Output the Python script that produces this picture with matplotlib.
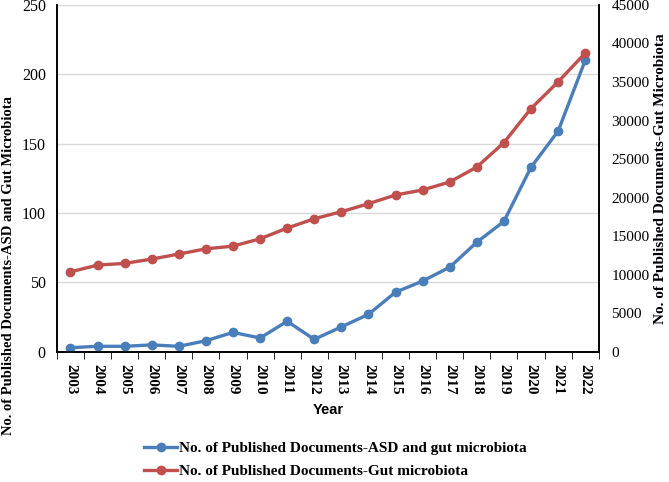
import numpy as np
import matplotlib.pyplot as plt

plt.rcParams['font.family'] = ['Liberation Serif', 'DejaVu Serif']

years = [str(y) for y in range(2003, 2023)]
asd_gut = [3, 4, 4, 5, 4, 8, 14, 10, 22, 9, 18, 27, 43, 51, 61, 79, 94, 133, 159, 210]
gut = [10370, 11250, 11470, 12030, 12680, 13360, 13710, 14660, 16050, 17260,
       18170, 19210, 20340, 20990, 22030, 23970, 27130, 31550, 35010, 38740]

blue = '#4a7ebb'
red = '#c0504d'

fig = plt.figure(figsize=(6.69, 4.82), dpi=100)
ax = fig.add_axes([0.085, 0.27, 0.81, 0.72])
ax2 = ax.twinx()

x = np.arange(len(years))
l1, = ax.plot(x, asd_gut, color=blue, lw=2.4, marker='o', ms=6,
              label='No. of Published Documents-ASD and gut microbiota', zorder=3)
l2, = ax2.plot(x, gut, color=red, lw=2.4, marker='o', ms=6,
               label='No. of Published Documents-Gut microbiota', zorder=3)

ax.set_xlim(-0.5, len(years) - 0.5)
ax.set_ylim(0, 250)
ax2.set_ylim(0, 45000)
ax.set_yticks(np.arange(0, 251, 50))
ax2.set_yticks(np.arange(0, 45001, 5000))
ax.grid(axis='y', color='#d9d9d9', lw=1)
ax.set_axisbelow(True)

ax.set_xticks(x)
ax.set_xticklabels(years, rotation=-90, fontweight='bold', fontsize=11)
ax.set_xticks(np.arange(-0.5, len(years)), minor=True)
ax.tick_params(axis='x', which='major', length=0, pad=9)
ax.tick_params(axis='x', which='minor', length=5, direction='out')
ax.tick_params(axis='y', length=0, labelsize=11.5, pad=8)
ax2.tick_params(axis='y', length=0, labelsize=11, pad=9)

for a in (ax, ax2):
    a.spines['top'].set_visible(False)
    for s in ('left', 'right', 'bottom'):
        a.spines[s].set_color('black')
        a.spines[s].set_linewidth(1.2)

ax.set_xlabel('Year', fontweight='bold', fontsize=10.5, family='Liberation Sans', labelpad=6)
fig.text(0.012, 0.45, 'No. of Published Documents-ASD and Gut Microbiota', rotation=90,
         fontweight='bold', fontsize=10.5, ha='center', va='center')
ax2.set_ylabel('No. of Published Documents-Gut Microbiota', fontweight='bold', fontsize=11, labelpad=3)

fig.legend(handles=[l1, l2], loc='lower left', bbox_to_anchor=(0.2, -0.014), frameon=False,
           prop={'weight': 'bold', 'size': 11}, handlelength=2.1, handletextpad=0.15,
           labelspacing=0.6, borderpad=0.2)

fig.savefig('out.png', dpi=100)
